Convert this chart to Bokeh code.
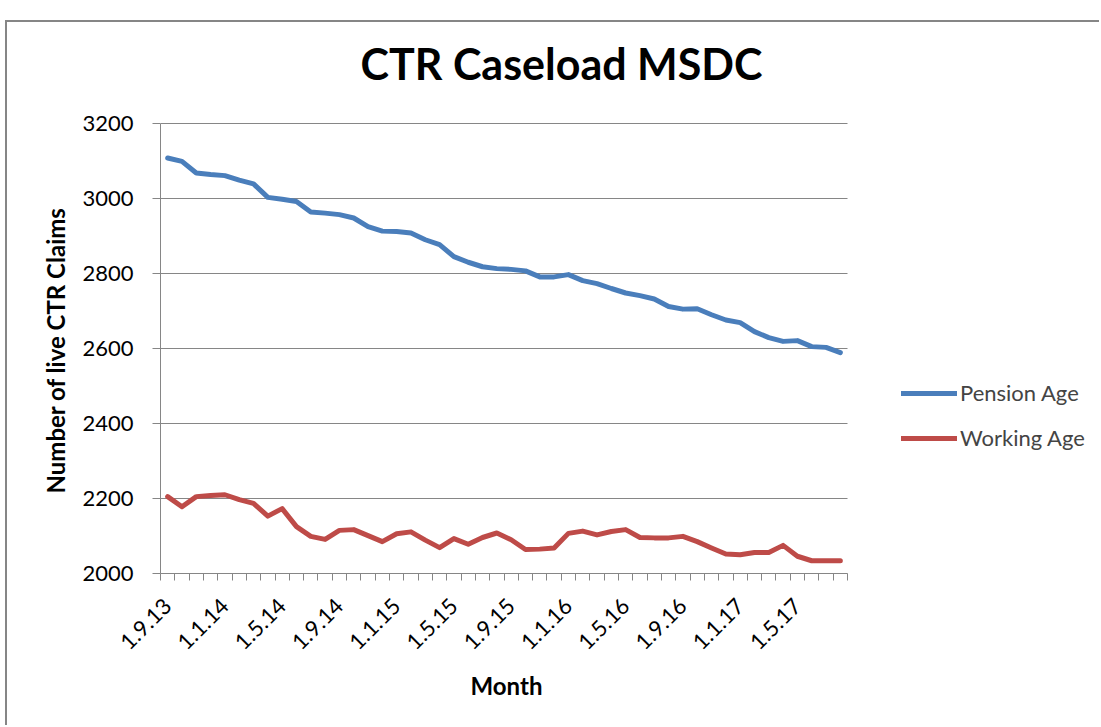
from bokeh.plotting import figure
from bokeh.models import Range1d, FixedTicker, Legend, LegendItem, Label, Title
from bokeh.embed import file_html
from bokeh.resources import INLINE
import math

months = []
for yy in [13, 14, 15, 16, 17]:
    for mm in range(1, 13):
        if (yy == 13 and mm < 9) or (yy == 17 and mm > 8):
            continue
        months.append("1.%d.%d" % (mm, yy))

pension_age = [3108, 3099, 3068, 3064, 3061, 3049, 3039, 3003, 2998, 2992,
               2964, 2961, 2957, 2948, 2925, 2913, 2912, 2908, 2890, 2877,
               2845, 2830, 2818, 2813, 2811, 2807, 2791, 2791, 2797, 2781,
               2773, 2760, 2748, 2741, 2732, 2712, 2705, 2706, 2690, 2676,
               2669, 2645, 2629, 2619, 2621, 2605, 2603, 2589]
working_age = [2205, 2178, 2205, 2208, 2210, 2197, 2187, 2153, 2173, 2125,
               2099, 2091, 2115, 2117, 2101, 2085, 2106, 2111, 2089, 2069,
               2093, 2078, 2096, 2108, 2090, 2064, 2065, 2068, 2107, 2113,
               2103, 2112, 2117, 2096, 2095, 2095, 2099, 2085, 2068, 2052,
               2050, 2056, 2056, 2075, 2046, 2034, 2034, 2034]
y_ticks = [2000, 2200, 2400, 2600, 2800, 3000, 3200]
label_every = 4

FONT = "Lato"
GRAY = "#868686"
BLUE = "#4A7EBB"
RED = "#BE4B48"

n = len(months)
xs = [i + 0.5 for i in range(n)]

# layout (canvas pixels); the frame spans to the right and top edges so that
# the title and legend can live inside it; axes are bounded to the data span.
W, H = 1094, 705
LEFT, BOTTOM = 153, 154
PLOT_W, PLOT_H = 687, 450          # visible plotting area
frame_w, frame_h = W - LEFT, H - BOTTOM
px_x = n / PLOT_W                  # data units per pixel
px_y = (y_ticks[-1] - y_ticks[0]) / PLOT_H
x_end = frame_w * px_x
y_end = y_ticks[0] + frame_h * px_y

def cx(canvas_x):
    return (canvas_x - LEFT) * px_x

def cy(canvas_y):
    return y_ticks[0] + (frame_h - canvas_y) * px_y

p = figure(width=W, height=H, output_backend="svg", toolbar_location=None,
           x_range=Range1d(0, x_end), y_range=Range1d(y_ticks[0], y_end),
           min_border_left=LEFT, min_border_right=0, min_border_top=0,
           min_border_bottom=BOTTOM)
p.title.text = ""
p.margin = (20, 0, 0, 5)
p.styles = {"border-left": "2px solid #868686", "border-top": "2px solid #868686"}
p.outline_line_color = None
p.background_fill_color = "white"
p.border_fill_color = "white"

# horizontal gridlines limited to the category span
p.segment(x0=[0] * len(y_ticks), x1=[n] * len(y_ticks), y0=y_ticks, y1=y_ticks,
          line_color=GRAY, line_width=1)

r1 = p.line(xs, pension_age, line_color=BLUE, line_width=5,
            line_join="round", line_cap="round")
r2 = p.line(xs, working_age, line_color=RED, line_width=5,
            line_join="round", line_cap="round")

# title (inside the extended frame)
p.add_layout(Label(x=cx(554), y=cy(41), text="CTR Caseload MSDC",
                   text_font=FONT, text_font_size="43px", text_font_style="bold",
                   text_color="black", text_align="center",
                   text_baseline="alphabetic"))

# x axis
xa = p.xaxis[0]
xa.bounds = (0, n)
major = [xs[i] for i in range(0, n, label_every)]
xa.ticker = FixedTicker(ticks=major, minor_ticks=list(range(n + 1)))
xa.major_label_overrides = {xs[i]: months[i] for i in range(0, n, label_every)}
xa.major_label_orientation = math.pi / 4
xa.major_tick_line_color = None
xa.major_tick_out = 0
xa.major_tick_in = 0
xa.minor_tick_out = 7
xa.minor_tick_in = 0
xa.minor_tick_line_color = GRAY
xa.axis_line_color = GRAY
xa.major_label_text_font = FONT
xa.major_label_text_font_size = "22px"
xa.major_label_text_color = "black"
xa.major_label_standoff = 22

p.add_layout(Title(text="Month", text_font=FONT, text_font_size="24px",
                   text_font_style="bold", text_color="black",
                   align="left", offset=310, standoff=18), "below")

ya = p.yaxis[0]
ya.bounds = (y_ticks[0], y_ticks[-1])
ya.ticker = FixedTicker(ticks=y_ticks, minor_ticks=[])
ya.major_tick_out = 8
ya.major_tick_in = 0
ya.major_tick_line_color = GRAY
ya.axis_line_color = GRAY
ya.major_label_text_font = FONT
ya.major_label_text_font_size = "22px"
ya.major_label_text_color = "black"
ya.major_label_standoff = 19

p.add_layout(Title(text="Number of live CTR Claims", text_font=FONT,
                   text_font_size="24px", text_font_style="bold",
                   text_color="black", align="left", offset=80, standoff=20),
             "left")

p.xgrid.grid_line_color = None
p.ygrid.grid_line_color = None

legend = Legend(items=[LegendItem(label="Pension Age", renderers=[r1]),
                       LegendItem(label="Working Age", renderers=[r2])],
                location=(741, 122), glyph_width=56, glyph_height=20,
                label_height=20, spacing=18, label_standoff=3, padding=0,
                margin=0, border_line_color=None, background_fill_color=None,
                label_text_font=FONT, label_text_font_size="22px")
p.add_layout(legend, "center")

open("out.html", "w").write(file_html(p, INLINE))
